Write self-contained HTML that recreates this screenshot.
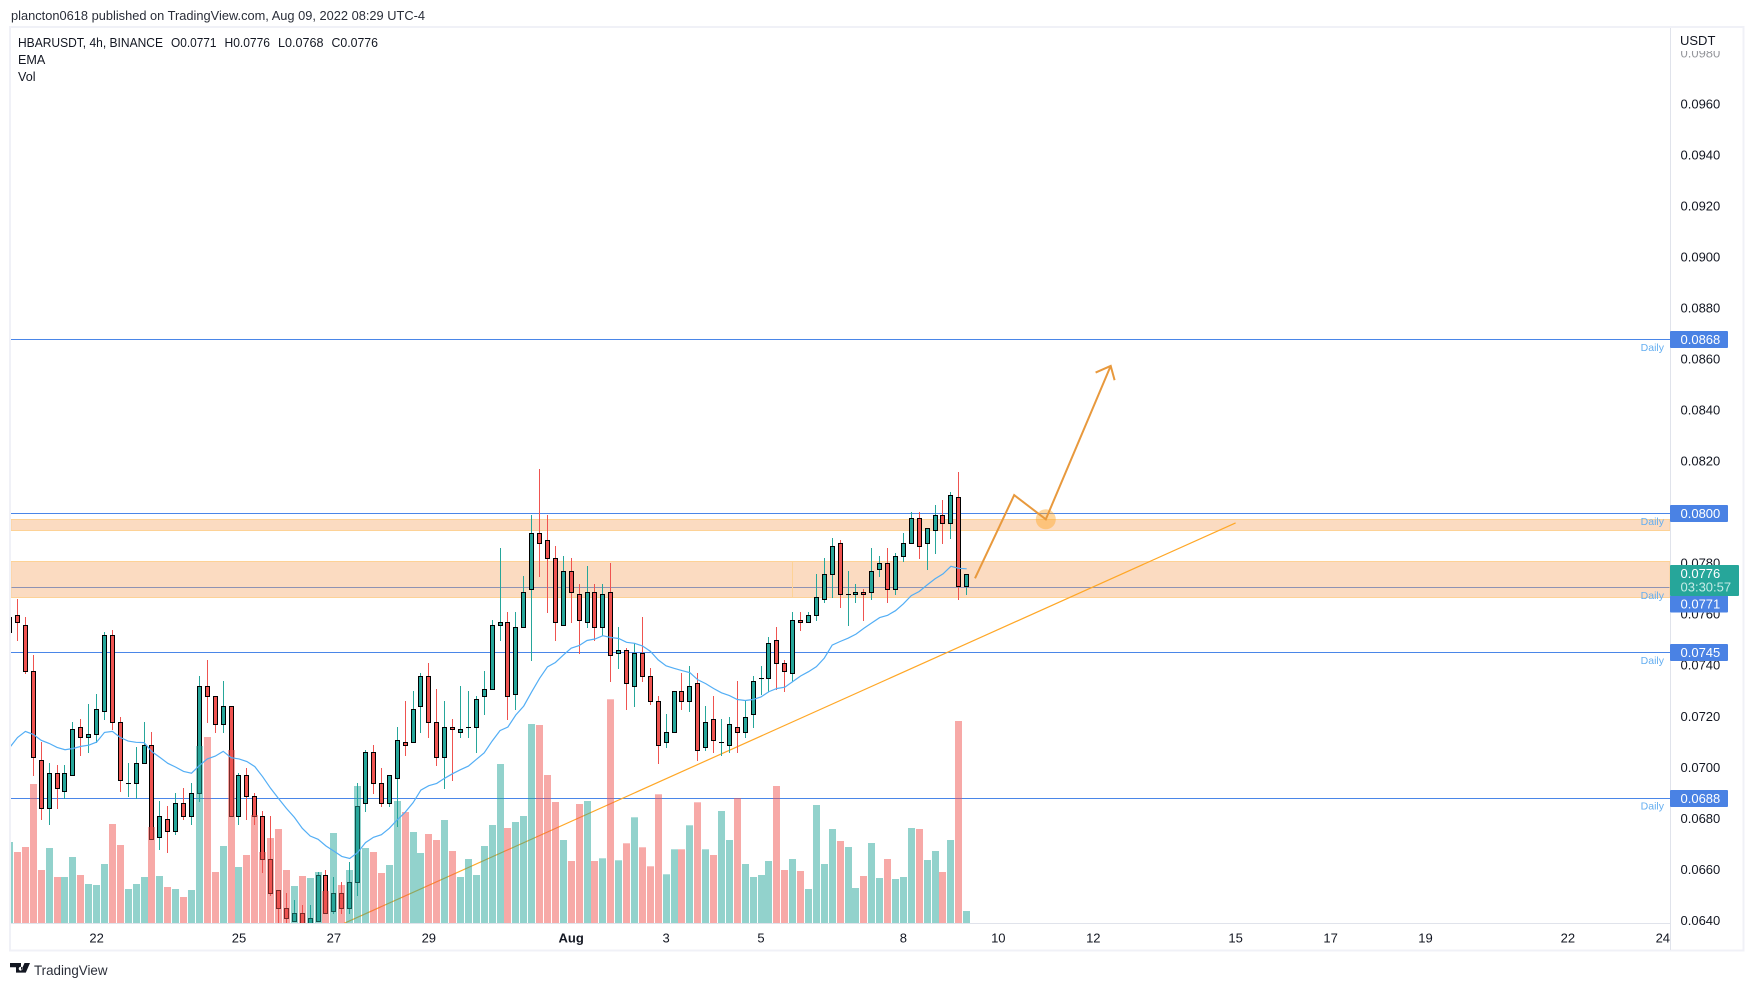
<!DOCTYPE html>
<html lang="en">
<head>
<meta charset="utf-8">
<title>HBARUSDT 4h chart</title>
<style>
html,body{margin:0;padding:0;background:#fff;width:1754px;height:986px;overflow:hidden}
svg{display:block;font-family:"Liberation Sans",Arial,sans-serif}
</style>
</head>
<body>
<svg id="chart" xmlns="http://www.w3.org/2000/svg" width="1754" height="986" viewBox="0 0 1754 986">
  <defs>
    <clipPath id="pane"><rect x="11" y="28" width="1659" height="895"></rect></clipPath>
    <clipPath id="axisClip"><rect x="1671" y="51" width="72" height="880"></rect></clipPath>
  </defs>
  <rect x="0" y="0" width="1754" height="986" fill="#ffffff"></rect>
  <text x="11" y="20" font-size="12.6" fill="#2a2e39" textLength="414" lengthAdjust="spacingAndGlyphs">plancton0618 published on TradingView.com, Aug 09, 2022 08:29 UTC-4</text>
  <rect x="10" y="27" width="1733.5" height="923.5" fill="#ffffff" stroke="#f0f1f7" stroke-width="2"></rect>
  <g id="paneLayer" clip-path="url(#pane)"></g>
  <line x1="11" x2="1670" y1="923.5" y2="923.5" stroke="#e0e3eb" stroke-width="1"></line>
  <line x1="1670.5" x2="1670.5" y1="28" y2="950" stroke="#e0e3eb" stroke-width="1"></line>
  <g id="priceAxis"></g>
  <g id="timeAxis"></g>
  <text x="1680" y="45" font-size="13" fill="#131722">USDT</text>
  <g id="tags"></g>
  <g font-size="12.6" fill="#131722">
    <text x="18" y="47" textLength="145" lengthAdjust="spacingAndGlyphs">HBARUSDT, 4h, BINANCE</text>
    <text x="171" y="47" textLength="45.5" lengthAdjust="spacingAndGlyphs">O0.0771</text>
    <text x="224.5" y="47" textLength="45.5" lengthAdjust="spacingAndGlyphs">H0.0776</text>
    <text x="278" y="47" textLength="45.5" lengthAdjust="spacingAndGlyphs">L0.0768</text>
    <text x="331.5" y="47" textLength="46.5" lengthAdjust="spacingAndGlyphs">C0.0776</text>
    <text x="18" y="64">EMA</text>
    <text x="18" y="81">Vol</text>
  </g>
  <g>
    <path d="M10 963h11v9.6h-5v-5.4h-6zM24.5 963h5.5l-4.2 9.6h-5.6zM20.6 966.8a1.9 1.9 0 1 0 .01 0z" fill="#131722"></path>
    <text x="34" y="975" font-size="14" fill="#2a2e39" textLength="73.5" lengthAdjust="spacingAndGlyphs">TradingView</text>
  </g>
</svg>
<script>
/* Prices are in units of 0.0001 USDT */
const opens = [753,760,756,738,703,684,698,691,697,716,
712,713,722,752,718,694,694,702,709,673,
680,675,686,681,690,732,728,717,724,681,
697,689,681,664,652,645,640,643,639,640,
658,644,651,645,655,686,706,694,686,696,
710,710,724,736,718,704,716,714,716,716,
728,731,756,757,729,755,770,792,789,782,
756,777,768,757,769,755,769,745,746,732,
745,736,726,710,714,730,726,733,708,719,
710,709,716,714,721,735,735,750,741,737,
758,757,760,766,776,788,768,768,769,769,
778,780,770,783,788,798,788,793,799,796,
806,771];
const highs = [760,766,759,744,710,702,701,701,718,719,
725,729,753,754,720,702,708,718,714,687,
685,690,692,694,736,742,728,734,724,698,
700,690,683,681,652,651,648,646,646,659,
660,657,655,663,694,707,709,700,697,716,
726,730,737,741,731,726,719,732,730,728,
738,758,786,761,761,775,799,817,799,787,
783,782,772,779,772,772,780,755,747,749,
759,739,728,721,730,737,740,737,724,728,
719,720,734,726,736,740,751,755,742,761,
761,761,776,782,790,789,777,772,770,786,
783,786,784,792,800,800,794,803,805,808,
816,776];
const lows = [750,750,737,697,680,678,684,688,697,705,
706,710,719,715,691,689,688,702,672,668,
667,674,680,678,687,718,714,714,681,678,
680,678,659,650,639,639,640,639,638,640,
643,643,643,643,650,683,690,685,685,677,
705,710,714,712,701,692,695,712,712,706,
721,731,750,719,723,755,742,775,761,750,
756,757,745,755,750,752,734,739,723,724,
734,725,702,708,714,723,722,703,707,706,
705,706,706,712,716,729,730,731,730,734,
754,757,758,765,767,763,756,765,758,766,
775,765,768,781,788,782,778,784,788,790,
766,768];
const closes = [759,757,738,704,684,698,692,698,715,712,
713,723,752,718,695,694,702,709,672,681,
675,686,681,690,732,728,717,724,681,697,
689,681,664,651,645,641,643,639,641,658,
643,651,645,655,685,706,694,686,697,711,
709,723,736,718,704,716,715,715,716,727,
731,756,757,728,755,769,792,788,782,757,
777,769,758,769,755,768,744,746,733,745,
736,726,709,714,730,726,732,707,718,711,
710,717,714,720,734,735,749,741,738,758,
757,760,767,776,787,768,768,769,768,777,
780,770,783,788,798,787,794,799,796,807,
771,776];
const volumes = [244,214,229,418,160,226,139,139,199,145,
118,115,178,298,235,103,118,139,289,142,
109,103,79,100,532,559,154,232,520,169,
205,325,214,256,283,160,112,142,136,154,
97,271,115,160,412,226,214,151,175,367,
334,274,211,268,250,310,217,139,193,145,
232,295,478,286,304,322,598,595,445,364,
250,187,358,367,187,195,672,189,240,318,
228,171,387,147,222,222,294,363,222,205,
337,250,376,178,139,145,187,412,160,193,
157,103,355,178,283,247,229,106,142,241,
136,193,133,139,286,283,190,217,154,250,
607,37];
const emaValues = [708,712,714.4,713.2,710.9,709.7,708.1,707.2,707.7,708.5,
709,710.2,714,714.4,712,710.6,710.1,710,706.4,704.2,
701.9,700.4,698.7,698,701,703.6,704.7,706.6,704.1,703.6,
702.6,700.6,696.6,692.1,688.1,684.2,680.7,676.4,673.4,672.1,
669.5,667.5,665.4,664.6,666.9,670.8,672.9,673.9,676.4,679.7,
682.7,686.4,691.4,693.1,694,696,697.8,699.4,700.8,703.4,
706,710.6,714.7,716.1,720.8,724.3,729.9,735.2,739.7,741.4,
744.3,747,748,750,750.6,751.9,751.2,750.8,749.3,748.9,
747.9,745.8,742.4,740.1,739.1,738.2,737.4,734.6,733.1,731.2,
729.5,728.4,726.9,726.5,726.9,727.9,730,731.2,731.7,733.9,
736.1,737.8,739.8,743.1,748.2,749.6,750.9,752.5,754.8,756.9,
759,759.9,761.7,764.4,767.6,769.2,771.8,774.2,776.1,779.1,
778.3,778.1];
const priceTicks = [640,660,680,700,720,740,760,780,800,820,840,860,880,900,920,940,960,980];
const priceTickLabels = ["0.0640","0.0660","0.0680","0.0700","0.0720","0.0740","0.0760","0.0780","0.0800","0.0820","0.0840","0.0860","0.0880","0.0900","0.0920","0.0940","0.0960","0.0980"];
const timeTickBars = [11,29,41,53,71,83,95,113,125,137,155,167,179,197,209];
const timeTickLabels = ["22","25","27","29","Aug","3","5","8","10","12","15","17","19","22","24"];
const levelPrices = [868,799.8,770.8,745.3,688.2];
const levelLabels = ["0.0868","0.0800","0.0771","0.0745","0.0688"];
const zoneTops = [797.5,781];
const zoneBottoms = [793.2,767];
const trendBars = [42.3,155];
const trendPrices = [639.2,796.1];
const arrowBars = [122.05,127,131,139.2];
const arrowPrices = [774.4,807,797.5,857.6];
const arrowHeadBars = [137.3,139.2,139.7];
const arrowHeadPrices = [855,857.6,852];
const targetBar = 131;
const targetPrice = 797.5;
const zoneMarkBar = 99;
const lastPrice = "0.0776";
const countdown = "03:30:57";

const SVGNS = "http://www.w3.org/2000/svg";
const lastBar = closes.length - 1;
function xAt(bar){ return 966.7 - (lastBar - bar) * 7.91; }
function yAt(price){ return 104.6 + (960 - price) * 2.552; }
function volY(v){ return 923.3 - v / 3; }
function snapX(bar){ return Math.floor(xAt(bar)) + 0.5; }
function snapY(price){ return Math.floor(yAt(price)) + 0.5; }
function mk(tag, parent, attrs){
  const el = document.createElementNS(SVGNS, tag);
  for (const k in attrs) el.setAttribute(k, attrs[k]);
  parent.appendChild(el);
  return el;
}
function pts(bars, prices){
  return bars.map(function(b, i){ return xAt(b).toFixed(1) + "," + yAt(prices[i]).toFixed(1); }).join(" ");
}
const pane = document.getElementById("paneLayer");
const priceAxis = document.getElementById("priceAxis");
const timeAxis = document.getElementById("timeAxis");
const tags = document.getElementById("tags");
const TEAL = "#26a69a", RED = "#ef5350";

/* horizontal daily levels under the zones */
levelPrices.forEach(function(p){
  const ln = mk("line", pane, {x1:11, x2:1670, y1:snapY(p), y2:snapY(p), stroke:"#4a86e8", "stroke-width":1});
  
  
});

/* supply / demand zones */
zoneTops.forEach(function(top, i){
  const z = mk("rect", pane, {x:11, width:1659, y:snapY(top), height:snapY(zoneBottoms[i])-snapY(top), fill:"rgba(245,166,100,0.4)", stroke:"#fdd296", "stroke-width":1});
  
  
});
const zm = mk("line", pane, {x1:snapX(zoneMarkBar), x2:snapX(zoneMarkBar), y1:snapY(zoneTops[1]), y2:snapY(zoneBottoms[1]), stroke:"#fdd296", "stroke-width":1});



/* level captions above the zones */
levelPrices.forEach(function(p){
  const t = mk("text", pane, {x:1664, y:(yAt(p)+11.5).toFixed(1), "font-size":10.5, fill:"#64aef0", "text-anchor":"end"});
  
  
  t.textContent = "Daily";
});

/* trend line */
const trend = mk("polyline", pane, {points:pts(trendBars, trendPrices), fill:"none", stroke:"#ffa726", "stroke-width":1.2});



/* candles */
closes.forEach(function(c, i){
  const o = opens[i], up = c >= o, col = up ? TEAL : RED;
  const x = snapX(i);
  const wick = mk("line", pane, {x1:x, x2:x, y1:Math.floor(yAt(highs[i])), y2:Math.ceil(yAt(lows[i])), stroke:col, "stroke-width":1});
  
  
  const top = snapY(Math.max(o, c)), bot = snapY(Math.min(o, c));
  const body = mk("rect", pane, {x:x-2, width:4, y:top, height:Math.max(bot-top, 0.01), fill:col, stroke:"#000", "stroke-width":1});
  
  
});

/* volume */
volumes.forEach(function(v, i){
  const up = closes[i] >= opens[i];
  const bar = mk("rect", pane, {x:Math.floor(xAt(i))-3, width:7, y:volY(v).toFixed(1), height:(923.3-volY(v)).toFixed(1), fill:up ? "rgba(38,166,154,0.5)" : "rgba(239,83,80,0.5)"});
  
  
});

/* EMA */
const ema = mk("polyline", pane, {points:pts(emaValues.map(function(_, i){ return i; }), emaValues), fill:"none", stroke:"#53aef5", "stroke-width":1.2});



/* projected path annotation */
const dot = mk("circle", pane, {cx:xAt(targetBar).toFixed(1), cy:yAt(targetPrice).toFixed(1), r:10, fill:"rgba(255,167,38,0.45)"});


const arrow = mk("polyline", pane, {points:pts(arrowBars, arrowPrices), fill:"none", stroke:"#e8993d", "stroke-width":2});


const head = mk("polyline", pane, {points:pts(arrowHeadBars, arrowHeadPrices), fill:"none", stroke:"#e8993d", "stroke-width":2});



/* price axis */
priceTicks.forEach(function(p, i){
  const t = mk("text", priceAxis, {x:1680.5, y:(yAt(p)+3.7).toFixed(1), "font-size":13, fill:"#131722", "clip-path":"url(#axisClip)"});
  
  
  if (p === 980) t.setAttribute("opacity", "0.45");
  t.textContent = priceTickLabels[i];
});

/* time axis */
timeTickLabels.forEach(function(label, i){
  const t = mk("text", timeAxis, {x:xAt(timeTickBars[i]).toFixed(1), y:942.5, "font-size":13, fill:"#131722", "text-anchor":"middle", "font-weight":label === "Aug" ? "bold" : "normal"});
  
  
  t.textContent = label;
});

/* price tags */
levelPrices.forEach(function(p, i){
  const cy = levelLabels[i] === "0.0771" ? 604 : Math.floor(yAt(p)) + 0.5;
  const r = mk("rect", tags, {x:1670, y:cy-8.5, width:58, height:17, rx:1, fill:"#4a82e4"});
  
  
  const t = mk("text", tags, {x:1680.5, y:cy+4.5, "font-size":13, fill:"#ffffff"});
  
  
  t.textContent = levelLabels[i];
});
const lastTag = mk("rect", tags, {x:1670, y:565, width:69, height:31, rx:1, fill:"#26a69a"});


const lastText = mk("text", tags, {x:1680.5, y:578, "font-size":13, fill:"#ffffff"});


lastText.textContent = lastPrice;
const cdText = mk("text", tags, {x:1680.5, y:591.5, "font-size":13, fill:"#c4ebe6"});


cdText.textContent = countdown;
</script>
</body>
</html>
